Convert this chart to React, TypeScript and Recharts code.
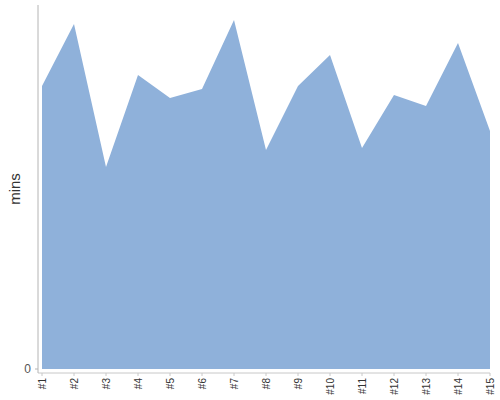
import React from 'react';
import { AreaChart, Area, XAxis, YAxis } from 'recharts';

const categories = ['#1', '#2', '#3', '#4', '#5', '#6', '#7', '#8', '#9', '#10', '#11', '#12', '#13', '#14', '#15'];
const minsValues = [283, 345, 202, 294, 271, 280, 349, 219, 283, 314, 221, 274, 263, 326, 238];
const yTicks = [0];

const data = categories.map((name, i) => ({ name, mins: minsValues[i] }));

const FONT = '"Liberation Sans", Arial, sans-serif';

const XTick = (props: any) => {
  const { x, y, payload } = props;
  return (
    <g transform={`translate(${x},${y})`}>
      <text
        transform="rotate(-90)"
        x={0}
        y={0}
        dy="0.35em"
        textAnchor="end"
        fontSize={10}
        fontFamily={FONT}
        fill="#333"
      >
        {payload.value}
      </text>
    </g>
  );
};

export default function App() {
  return (
    <div style={{ position: 'absolute', left: 0, top: 0, width: 500, height: 400, background: '#fff' }}>
      <AreaChart width={500} height={400} data={data} margin={{ top: 5, right: 10, left: 0, bottom: 0 }}>
        <XAxis
          dataKey="name"
          interval={0}
          height={27}
          padding={{ left: 4, right: 0 }}
          tick={<XTick />}
          tickSize={3}
          tickMargin={2}
          axisLine={{ stroke: '#c8c8c8' }}
          tickLine={{ stroke: '#c8c8c8' }}
        />
        <YAxis
          type="number"
          domain={[-4, 364]}
          ticks={yTicks}
          width={38}
          tickSize={3}
          tickMargin={4}
          allowDataOverflow
          axisLine={{ stroke: '#b4b4b4' }}
          tickLine={{ stroke: '#b4b4b4' }}
          tick={{ fontSize: 12, fontFamily: FONT, fill: '#555' }}
          label={{ value: 'mins', angle: -90, position: 'center', dx: -4, fontSize: 15, fontFamily: FONT, fill: '#333' }}
        />
        <Area
          type="linear"
          dataKey="mins"
          stroke="none"
          fill="#8fb1da"
          fillOpacity={1}
          isAnimationActive={false}
          dot={false}
          activeDot={false}
        />
      </AreaChart>
    </div>
  );
}
